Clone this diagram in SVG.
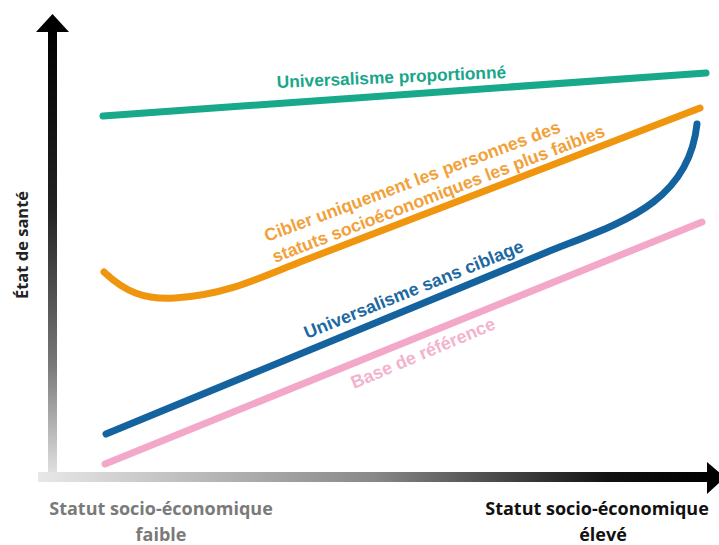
<svg xmlns="http://www.w3.org/2000/svg" width="719" height="545" viewBox="0 0 719 545">
  <style>
    .curve { fill: none; stroke-width: 7; stroke-linecap: round; stroke-linejoin: round; }
    .lbl { font-family: "Liberation Sans", Arial, sans-serif; font-weight: bold; }
    .ax { font-family: "Open Sans", "Liberation Sans", sans-serif; font-weight: bold; text-anchor: middle; }
  </style>
  <defs>
    <linearGradient id="gv" gradientUnits="userSpaceOnUse" x1="0" y1="30" x2="0" y2="475">
      <stop offset="0" stop-color="#000"/>
      <stop offset="0.4" stop-color="#222"/>
      <stop offset="0.75" stop-color="#777"/>
      <stop offset="1" stop-color="#e2e2e2"/>
    </linearGradient>
    <linearGradient id="gh" gradientUnits="userSpaceOnUse" x1="38" y1="0" x2="710" y2="0">
      <stop offset="0" stop-color="#e8e8e8"/>
      <stop offset="0.5" stop-color="#888"/>
      <stop offset="0.85" stop-color="#111"/>
      <stop offset="1" stop-color="#000"/>
    </linearGradient>
  </defs>
  <rect width="719" height="545" fill="#fff"/>

  <g id="axes">
    <rect x="48" y="30" width="9" height="446" fill="url(#gv)"/>
    <polygon points="52.5,14 69,32 36,32" fill="#000"/>
    <rect x="38" y="472" width="672" height="10" fill="url(#gh)"/>
    <polygon points="707,462 725,477.5 707,494" fill="#000"/>
  </g>

  <g id="axis-labels">
    <text class="ax" font-size="16.5" transform="translate(28,245) rotate(-90)" fill="#222">État de santé</text>
    <text class="ax" font-size="18" x="161" y="515" fill="#7a7a7a">Statut socio-économique</text>
    <text class="ax" font-size="18" x="161" y="541" fill="#7a7a7a">faible</text>
    <text class="ax" font-size="18" x="597" y="515" fill="#111">Statut socio-économique</text>
    <text class="ax" font-size="18" x="603" y="541" fill="#111">élevé</text>
  </g>

  <g id="connectors">
    <path id="c-prop" class="curve" stroke="#17a98a" d="M103,116 L706,73"/>
    <path id="c-cibler" class="curve" stroke="#f0950e" d="M104,272 C125,292 145,300 175,298 C225,295 260,278 300,262 L700,108"/>
    <path id="c-sans" class="curve" stroke="#14639f" d="M106,434 L540,255 C612,225 688,208 697,124"/>
    <path id="c-base" class="curve" stroke="#f3a8c9" d="M105,464 L702,222"/>
  </g>

  <g id="n-prop">
    <text class="lbl" font-size="17.3" fill="#1aa68a" transform="translate(277,88) rotate(-2.5)">Universalisme proportionné</text>
  </g>
  <g id="n-cibler">
    <text class="lbl" font-size="17.7" fill="#f2a13a" transform="translate(267,242) rotate(-20.5)">Cibler uniquement les personnes des</text>
    <text class="lbl" font-size="17.7" fill="#f2a13a" transform="translate(275,263) rotate(-21)">statuts socioéconomiques les plus faibles</text>
  </g>
  <g id="n-sans">
    <text class="lbl" font-size="18" fill="#1c69a2" transform="translate(307,339) rotate(-22)">Universalisme sans ciblage</text>
  </g>
  <g id="n-base">
    <text class="lbl" font-size="18" fill="#f3b3cf" transform="translate(354,389) rotate(-23)">Base de référence</text>
  </g>
</svg>
